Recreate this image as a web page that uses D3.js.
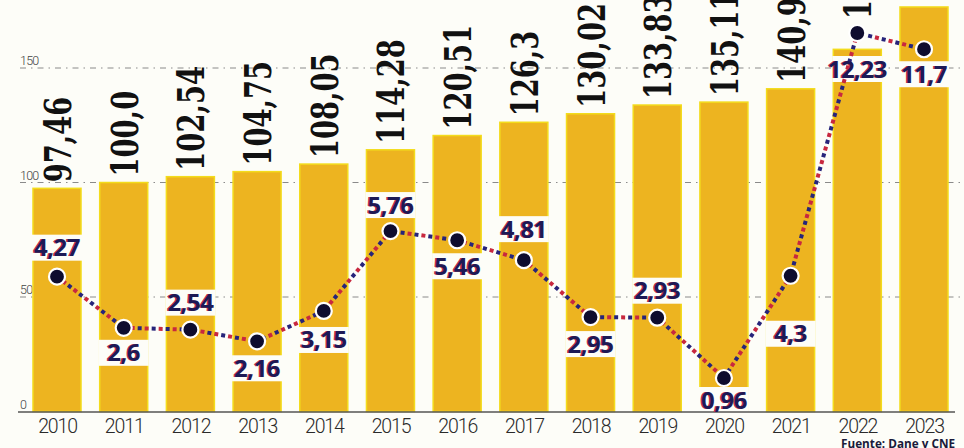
<!DOCTYPE html>
<html lang="es">
<head>
    <meta charset="UTF-8">
    <title>indice</title>
    <style>
        body { margin: 0; background: #fdfdf8; }
        svg { display: block; }
    </style>
</head>
<body>
    <script src="https://cdn.jsdelivr.net/npm/d3@7/dist/d3.min.js" charset="utf-8"></script>
    <script>
        // datos
        var years = ["2010","2011","2012","2013","2014","2015","2016","2017","2018","2019","2020","2021","2022","2023"];
        var indexValues = [97.46, 100.0, 102.54, 104.75, 108.05, 114.28, 120.51, 126.3, 130.02, 133.83, 135.11, 140.92, 158.15, 176.65];
        var indexLabels = ["97,46","100,0","102,54","104,75","108,05","114,28","120,51","126,3","130,02","133,83","135,11","140,92","158,15","176,65"];
        var growth = [4.27, 2.6, 2.54, 2.16, 3.15, 5.76, 5.46, 4.81, 2.95, 2.93, 0.96, 4.3, 12.23, 11.7];
        var yTicks = [0, 50, 100, 150];
        // donde va la etiqueta del porcentaje respecto al punto (px)
        var labelShift = [-29, 25, -27, 27, 29, -26, 26, -31, 27, -27, 22, 58, 36, 25];

        var width = 964;
        var height = 448;

        var svg = d3.select("body")
                    .append("svg")
                    .attr("width", width)
                    .attr("height", height);

        svg.append("rect")
            .attr("width", width)
            .attr("height", height)
            .attr("fill", "#fdfdf8");

        var x = d3.scaleBand()
                  .domain(years)
                  .range([33, 948])
                  .paddingInner(0.28)
                  .paddingOuter(0);
        var y = d3.scaleLinear().domain([0, 150]).range([411.5, 68]);
        var y2 = d3.scaleLinear().domain([0, 12.23]).range([407.4, 33]);
        var bw = x.bandwidth();
        var cx = function(i){ return x(years[i]) + bw / 2; };

        // lineas guia
        svg.selectAll(".grid")
            .data(yTicks.filter(d => d > 0))
            .enter()
            .append("line")
            .attr("x1", 20)
            .attr("x2", width)
            .attr("y1", d => y(d))
            .attr("y2", d => y(d))
            .attr("stroke", "#8a8a8a")
            .attr("stroke-width", 1)
            .attr("stroke-dasharray", "6,5,1.5,5");

        svg.selectAll(".tick")
            .data(yTicks)
            .enter()
            .append("text")
            .attr("x", 20)
            .attr("y", d => y(d) - 3)
            .attr("font-family", "Roboto")
            .attr("font-weight", 300)
            .attr("font-size", 12.5)
            .attr("letter-spacing", -0.8)
            .attr("fill", "#444")
            .text(d => d);

        // barras
        svg.selectAll(".bar")
            .data(indexValues)
            .enter()
            .append("rect")
            .attr("x", (d, i) => x(years[i]))
            .attr("y", d => y(d))
            .attr("width", bw)
            .attr("height", d => y(0) - y(d))
            .attr("fill", "#edb420")
            .attr("stroke", "#f3dc1c")
            .attr("stroke-width", 1.5);

        // recuadros blancos de las etiquetas
        svg.selectAll(".box")
            .data(growth)
            .enter()
            .append("rect")
            .attr("x", (d, i) => x(years[i]) - 1)
            .attr("y", (d, i) => y2(d) + labelShift[i] - 13)
            .attr("width", bw + 2)
            .attr("height", 26)
            .attr("fill", "#fdfdf8");

        // eje
        svg.append("line")
            .attr("x1", 18)
            .attr("x2", 955)
            .attr("y1", y(0) + 0.5)
            .attr("y2", y(0) + 0.5)
            .attr("stroke", "#555")
            .attr("stroke-width", 1.5);

        svg.selectAll(".year")
            .data(years)
            .enter()
            .append("text")
            .attr("x", (d, i) => cx(i) + 0.6)
            .attr("y", 433)
            .attr("text-anchor", "middle")
            .attr("font-family", "Roboto")
            .attr("font-weight", 300)
            .attr("font-size", 19.5)
            .attr("letter-spacing", -1.1)
            .attr("fill", "#2a2a2a")
            .text(d => d);

        // valores del indice, verticales
        svg.selectAll(".val")
            .data(indexValues)
            .enter()
            .append("text")
            .attr("transform", function(d, i){
                var top = Math.min(y(d), y2(growth[i]) - 8) - 6;
                return "translate(" + (cx(i) + 14) + "," + top + ") rotate(-90) scale(0.72,1)";
            })
            .attr("font-family", "DejaVu Serif")
            .attr("font-weight", "bold")
            .attr("font-size", 38)
            .attr("fill", "#111")
            .text((d, i) => indexLabels[i]);

        // linea punteada de variacion (puntos azules y rojos alternados)
        var line = d3.line()
                     .x((d, i) => cx(i))
                     .y(d => y2(d));
        svg.append("path")
            .attr("d", line(growth))
            .attr("fill", "none")
            .attr("stroke", "#27247a")
            .attr("stroke-width", 4)
            .attr("stroke-dasharray", "4,10");
        svg.append("path")
            .attr("d", line(growth))
            .attr("fill", "none")
            .attr("stroke", "#c8283f")
            .attr("stroke-width", 4)
            .attr("stroke-dasharray", "4,10")
            .attr("stroke-dashoffset", 7);

        svg.selectAll(".dot")
            .data(growth)
            .enter()
            .append("circle")
            .attr("cx", (d, i) => cx(i))
            .attr("cy", d => y2(d))
            .attr("r", 8)
            .attr("fill", "#0e0c2e")
            .attr("stroke", "#fff")
            .attr("stroke-width", 2.2);

        // etiquetas del porcentaje (con corrimiento rojo de impresion)
        var fmt = function(d){ return String(d).replace(".", ","); };
        ["#c8304a", "#1d1a55"].forEach(function(col, k){
            svg.selectAll(".pct" + k)
                .data(growth)
                .enter()
                .append("text")
                .attr("x", (d, i) => cx(i) + (k === 0 ? -1.2 : 0))
                .attr("y", (d, i) => y2(d) + labelShift[i] + 8.5)
                .attr("text-anchor", "middle")
                .attr("font-family", "Open Sans")
                .attr("font-weight", 700)
                .attr("font-size", 24)
                .attr("letter-spacing", -0.5)
                .attr("fill", col)
                .text(fmt);
        });

        svg.append("text")
            .attr("x", 955)
            .attr("y", 447.5)
            .attr("text-anchor", "end")
            .attr("font-family", "Open Sans")
            .attr("font-weight", 700)
            .attr("font-size", 13)
            .attr("textLength", 114)
            .attr("lengthAdjust", "spacingAndGlyphs")
            .attr("fill", "#1a1a3a")
            .text("Fuente: Dane y CNE");
    </script>
</body>
</html>
